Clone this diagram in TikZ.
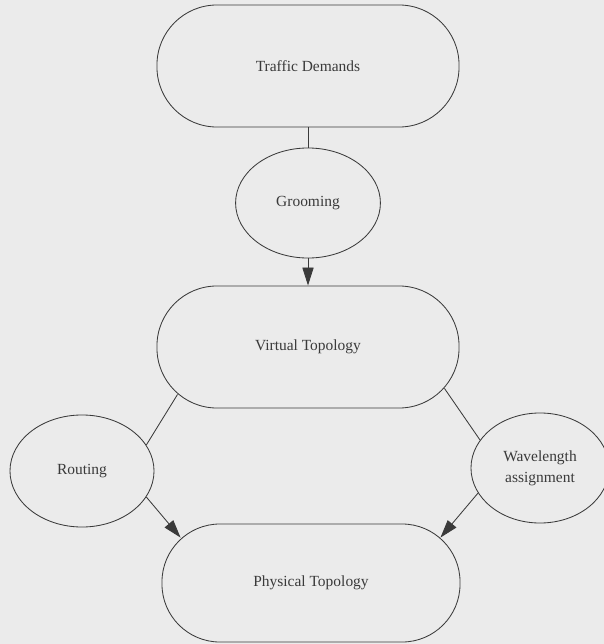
\documentclass[tikz,border=0pt]{standalone}
\usepackage{fontspec}
\setmainfont{Liberation Serif}
\usepackage{tikz}
\usetikzlibrary{shapes.geometric, arrows.meta, positioning}
\definecolor{scan-gray}{HTML}{EBEBEB}
\definecolor{ink}{HTML}{3A3A3A}

\begin{document}
\begin{tikzpicture}[
    x=0.025cm, y=-0.025cm,
    font=\fontsize{11}{15}\selectfont,
    box/.style={draw=ink, line width=0.6pt, text=ink, minimum width=7.55cm, minimum height=3.05cm, rounded corners=1.5cm},
    oval/.style={draw=ink, line width=0.6pt, text=ink, ellipse, inner sep=0pt, align=center},
    line/.style={draw=ink, line width=0.6pt},
    arrow/.style={line, -{Triangle[length=0.45cm, width=0.28cm]}}
]
    \fill[scan-gray] (0,0) rectangle (604,644);
    \useasboundingbox (0,0) rectangle (604,644);

    \node (td) [box] at (308,66) {Traffic Demands};
    \node (gr) [oval, minimum width=3.62cm, minimum height=2.75cm] at (308,203) {Grooming};
    \node (vt) [box] at (308,347) {Virtual Topology};
    \node (rt) [oval, minimum width=3.6cm, minimum height=2.8cm] at (82,471) {Routing};
    \node (wa) [oval, minimum width=3.45cm, minimum height=2.75cm] at (540,468) {Wavelength\\assignment};
    \node (pt) [box, minimum width=7.45cm, minimum height=2.95cm, rounded corners=1.45cm] at (311,583) {Physical Topology};

    \draw [line] (td) -- (gr);
    \draw [arrow] (gr) -- (vt);
    \draw [line] ([shift={(21,-14)}]vt.south west) -- (rt.22);
    \draw [line] ([shift={(-15,-20)}]vt.south east) -- (wa.155);
    \draw [arrow] (rt.-22) -- ([shift={(19,14)}]pt.north west);
    \draw [arrow] (wa.202) -- ([shift={(-20,14)}]pt.north east);
\end{tikzpicture}
\end{document}
